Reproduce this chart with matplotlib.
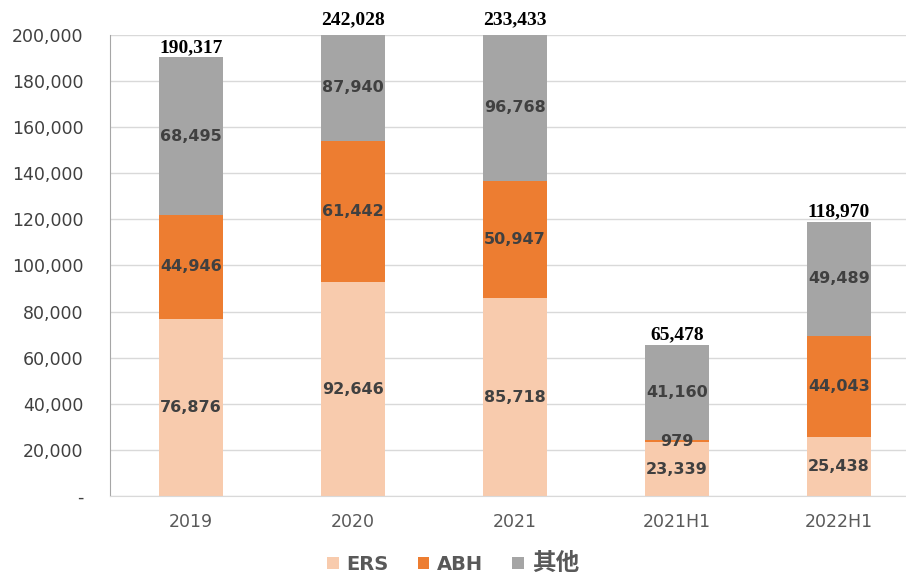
import numpy as np
import matplotlib.pyplot as plt
from matplotlib.ticker import FuncFormatter

years = ["2019", "2020", "2021", "2021H1", "2022H1"]
ers = [76876, 92646, 85718, 23339, 25438]
abh = [44946, 61442, 50947, 979, 44043]
other = [68495, 87940, 96768, 41160, 49489]
totals = [190317, 242028, 233433, 65478, 118970]

colors = ["#F8CBAD", "#ED7D31", "#A5A5A5"]
names = ["ERS", "ABH", "其他"]
ymax = 200000

fig = plt.figure(figsize=(9.06, 5.78), dpi=100)
ax = fig.add_axes([0.1214, 0.1419, 0.894, 0.7976])

x = np.arange(len(years))
w = 0.395
bottom = np.zeros(len(years))
for vals, c, n in zip([ers, abh, other], colors, names):
    ax.bar(x, vals, w, bottom=bottom, color=c, label=n, zorder=2)
    for i, v in enumerate(vals):
        lo = bottom[i]
        hi = min(lo + v, ymax)
        ax.text(x[i], (lo + hi) / 2, f"{v:,}", ha="center", va="center",
                fontsize=11.5, fontweight="bold", color="#404040", zorder=3)
    bottom += np.array(vals)

for i, t in enumerate(totals):
    ax.annotate(f"{t:,}", (x[i], min(t, ymax)), xytext=(0, 1 if t < ymax else 5),
                textcoords="offset points", ha="center", va="bottom",
                fontsize=14, fontweight="bold", family="Liberation Serif",
                color="black", annotation_clip=False)

ax.set_ylim(0, ymax)
ax.set_xlim(-0.5, len(years) - 0.5)
ax.set_yticks(np.arange(0, ymax + 1, 20000))
ax.yaxis.set_major_formatter(FuncFormatter(lambda v, p: "-" if v == 0 else f"{int(v):,}"))
ax.set_xticks(x)
ax.set_xticklabels(years)
ax.tick_params(axis="y", length=0, pad=19, labelsize=12.5, labelcolor="#404040")
ax.tick_params(axis="x", length=0, pad=12, labelsize=12.5, labelcolor="#595959")
ax.grid(axis="y", color="#D9D9D9", linewidth=1, zorder=0)
for s in ["top", "right"]:
    ax.spines[s].set_visible(False)
ax.spines["left"].set_color("#A6A6A6")
ax.spines["bottom"].set_color("#D9D9D9")

leg = fig.legend(loc="lower center", bbox_to_anchor=(0.5, -0.025), ncol=3, frameon=False,
                 handlelength=0.6, handleheight=0.6, handletextpad=0.4, columnspacing=1.5,
                 prop={"family": ["DejaVu Sans", "Noto Sans CJK SC"], "size": 14, "weight": "bold"})
for t in leg.get_texts():
    t.set_color("#595959")
leg.get_texts()[2].set_fontsize(17)

fig.savefig("out.png", dpi=100)
